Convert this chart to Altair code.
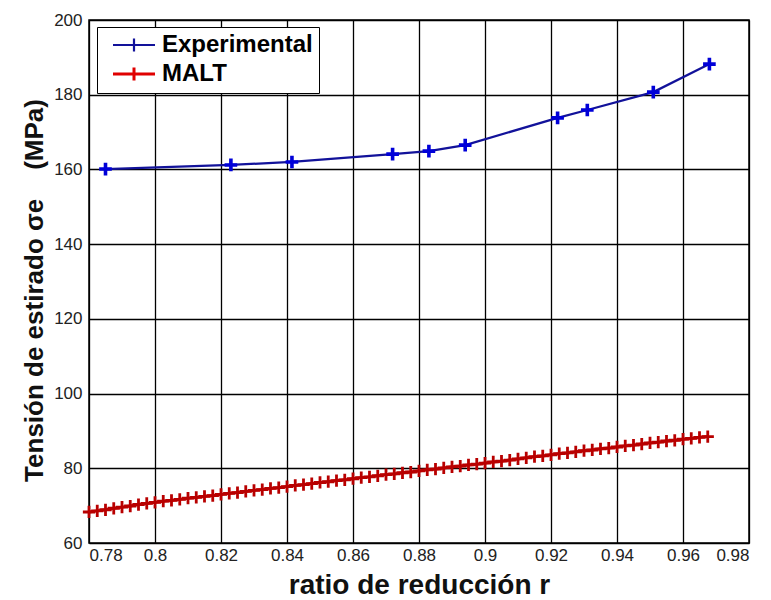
import altair as alt
import pandas as pd

# Experimental series
exp_r = [0.785, 0.823, 0.8415, 0.872, 0.883, 0.894, 0.922, 0.931, 0.951, 0.968]
exp_s = [160.1, 161.2, 162.0, 164.1, 164.9, 166.5, 173.8, 175.9, 180.7, 188.2]

# MALT model series
malt_r = [0.7800, 0.7825, 0.7850, 0.7875, 0.7900, 0.7925, 0.7950, 0.7975,
          0.8000, 0.8025, 0.8050, 0.8075, 0.8100, 0.8125, 0.8150, 0.8175,
          0.8200, 0.8225, 0.8250, 0.8275, 0.8300, 0.8325, 0.8350, 0.8375,
          0.8400, 0.8425, 0.8450, 0.8475, 0.8500, 0.8525, 0.8550, 0.8575,
          0.8600, 0.8625, 0.8650, 0.8675, 0.8700, 0.8725, 0.8750, 0.8775,
          0.8800, 0.8825, 0.8850, 0.8875, 0.8900, 0.8925, 0.8950, 0.8975,
          0.9000, 0.9025, 0.9050, 0.9075, 0.9100, 0.9125, 0.9150, 0.9175,
          0.9200, 0.9225, 0.9250, 0.9275, 0.9300, 0.9325, 0.9350, 0.9375,
          0.9400, 0.9425, 0.9450, 0.9475, 0.9500, 0.9525, 0.9550, 0.9575,
          0.9600, 0.9625, 0.9650, 0.9675]
malt_s = [68.3, 68.6, 68.9, 69.3, 69.6, 69.9, 70.3, 70.6,
          70.9, 71.2, 71.4, 71.7, 72.0, 72.2, 72.5, 72.7,
          73.0, 73.3, 73.5, 73.8, 74.1, 74.3, 74.6, 74.8,
          75.1, 75.4, 75.6, 75.9, 76.2, 76.4, 76.7, 76.9,
          77.2, 77.5, 77.7, 78.0, 78.3, 78.5, 78.8, 79.0,
          79.3, 79.6, 79.8, 80.1, 80.4, 80.6, 80.9, 81.1,
          81.4, 81.7, 81.9, 82.2, 82.5, 82.8, 83.1, 83.3,
          83.6, 83.9, 84.1, 84.4, 84.7, 84.9, 85.2, 85.4,
          85.7, 86.0, 86.2, 86.5, 86.8, 87.0, 87.3, 87.5,
          87.8, 88.0, 88.3, 88.5]

series_names = ["Experimental", "MALT"]
series_colors = ["#12129a", "#e00000"]
x_ticks = [0.78, 0.80, 0.82, 0.84, 0.86, 0.88, 0.90, 0.92, 0.94, 0.96, 0.98]
y_ticks = [60, 80, 100, 120, 140, 160, 180, 200]

df = pd.concat([
    pd.DataFrame({"r": exp_r, "s": exp_s, "series": "Experimental"}),
    pd.DataFrame({"r": malt_r, "s": malt_s, "series": "MALT"}),
], ignore_index=True)

PLUS = "M-1,0H1M0,-1V1"
LEG_SYM = "M-2.1,0H2.1M0,-0.65V0.65"
FONT = "Liberation Sans Narrow, Liberation Sans, Arial, sans-serif"
NB = "\u00a0"

x = alt.X("r:Q", scale=alt.Scale(domain=[0.78, 0.98], nice=False, zero=False),
          axis=alt.Axis(values=x_ticks, format=".2~f", title="ratio de reducción r",
                        labelPadding=4, titlePadding=8, titleFontSize=28))
y = alt.Y("s:Q", scale=alt.Scale(domain=[60, 200], nice=False, zero=False),
          axis=alt.Axis(values=y_ticks, title="Tensión de estirado σe" + NB * 4 + "(MPa)",
                        labelPadding=7, titlePadding=6, titleY=270))
color_scale = alt.Scale(domain=series_names, range=series_colors)

base = alt.Chart(df)

lines = base.mark_line().encode(
    x=x, y=y,
    color=alt.Color("series:N", scale=color_scale,
                    legend=alt.Legend(title=None, orient="none", legendX=8, legendY=7,
                                      symbolType=LEG_SYM, symbolSize=400,
                                      symbolStrokeWidth=2.5, symbolOffset=19,
                                      labelOffset=16, labelFont="Liberation Sans",
                                      labelFontWeight="bold", labelFontSize=24,
                                      labelColor="black", rowPadding=4,
                                      padding=6, strokeColor="black",
                                      fillColor="white")),
    strokeWidth=alt.StrokeWidth("series:N", scale=alt.Scale(domain=series_names, range=[2.2, 3]),
                                legend=None),
)

exp_pts = base.transform_filter(alt.datum.series == "Experimental").mark_point(
    shape=PLUS, size=160, strokeWidth=3.6, filled=False, opacity=1, color="#0000d8"
).encode(x=x, y=y)

malt_pts = base.transform_filter(alt.datum.series == "MALT").mark_point(
    shape=PLUS, size=150, strokeWidth=2.8, filled=False, opacity=1, color="#b80000"
).encode(x=x, y=y)

chart = alt.layer(lines, malt_pts, exp_pts).properties(
    width=660, height=523,
    padding={"left": 81, "top": 12, "right": 14, "bottom": 55},
    autosize=alt.AutoSizeParams(type="none"),
).configure_view(
    stroke="black", strokeWidth=1.5
).configure_axis(
    grid=True, gridColor="black", gridOpacity=1, gridWidth=1.3,
    domain=False, ticks=False,
    labelFont=FONT, labelFontSize=17, labelColor="#222222",
    titleFont="Liberation Sans", titleFontWeight="bold", titleFontSize=26,
    titleColor="#111111",
)

chart.save("out.html", embed_options={"renderer": "svg", "actions": False})
